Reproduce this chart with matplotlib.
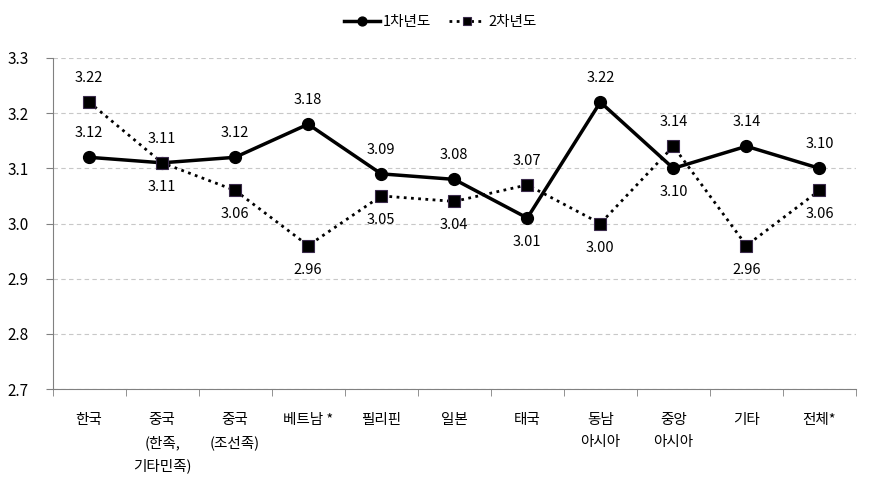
import numpy as np
import matplotlib.pyplot as plt

plt.rcParams['font.family'] = ['Noto Sans CJK KR', 'DejaVu Sans']

categories = ['한국', '중국\n(한족,\n기타민족)', '중국\n(조선족)', '베트남 *', '필리핀', '일본',
              '태국', '동남\n아시아', '중앙\n아시아', '기타', '전체*']
year1 = [3.12, 3.11, 3.12, 3.18, 3.09, 3.08, 3.01, 3.22, 3.10, 3.14, 3.10]
year2 = [3.22, 3.11, 3.06, 2.96, 3.05, 3.04, 3.07, 3.00, 3.14, 2.96, 3.06]
# label above (+1) or below (-1) the point
year1_pos = [1, 1, 1, 1, 1, 1, -1, 1, -1, 1, 1]
year2_pos = [1, -1, -1, -1, -1, -1, 1, -1, 1, -1, -1]

fig = plt.figure(figsize=(8.71, 4.93), dpi=100)
ax = fig.add_axes([52.5/871, 1-389/493, (856-52.5)/871, (389-58)/493])

x = np.arange(len(categories))
ax.plot(x, year1, color='black', lw=2.5, marker='o', ms=8.5, label='1차년도', zorder=3)
ax.plot(x, year2, color='black', lw=2, ls=(0, (1, 1.6)), marker='s', ms=8.5,
        markeredgecolor='#3a2a4a', markeredgewidth=0.8, label='2차년도', zorder=3)

for xi, v, p in zip(x, year1, year1_pos):
    ax.annotate(f'{v:.2f}', (xi, v), xytext=(0, 24*p), textcoords='offset pixels',
                ha='center', va='center', fontsize=10.5)
for xi, v, p in zip(x, year2, year2_pos):
    ax.annotate(f'{v:.2f}', (xi, v), xytext=(0, 24*p), textcoords='offset pixels',
                ha='center', va='center', fontsize=10.5)

ax.set_xlim(-0.5, len(categories) - 0.5)
ax.set_ylim(2.7, 3.3)
ax.set_yticks(np.arange(2.7, 3.31, 0.1))
ax.set_yticklabels([f'{t:.1f}' for t in np.arange(2.7, 3.31, 0.1)], fontsize=11)
ax.yaxis.grid(True, ls=(0, (4, 3)), color='#c8c8c8', lw=0.8)
ax.set_axisbelow(True)

ax.set_xticks(x)
ax.set_xticklabels(categories, fontsize=10.5, linespacing=1.72, va='top')
ax.set_xticks(np.arange(-0.5, len(categories), 1), minor=True)
ax.tick_params(axis='x', which='major', length=0, pad=17)
ax.tick_params(axis='x', which='minor', length=5, color='#808080')
ax.tick_params(axis='y', length=5, color='#808080', pad=12)

for s in ['top', 'right']:
    ax.spines[s].set_visible(False)
for s in ['left', 'bottom']:
    ax.spines[s].set_color('#808080')

fig.legend(loc='center', bbox_to_anchor=(440/871, 1-22/493), ncol=2, frameon=False,
           fontsize=10.5, handlelength=2.5, columnspacing=1.2, handletextpad=0.2,
           markerscale=0.75)

fig.savefig('out.png', dpi=100)
